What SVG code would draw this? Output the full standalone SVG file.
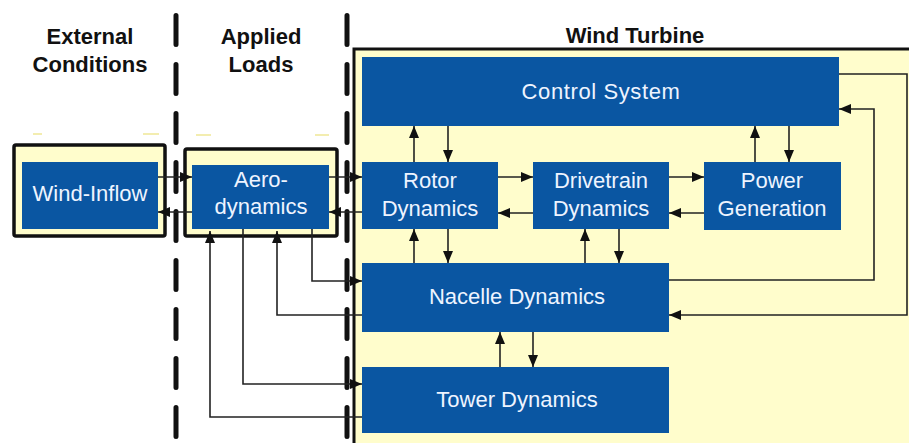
<svg xmlns="http://www.w3.org/2000/svg" width="909" height="443" viewBox="0 0 909 443">
<defs>
<style>
.hdr{font-family:"Liberation Sans",Arial,sans-serif;font-weight:bold;font-size:22px;fill:#111;text-anchor:middle}
.lbl{font-family:"Liberation Sans",Arial,sans-serif;font-size:22px;fill:#EEF4FF;text-anchor:middle}
.blue{fill:#0A56A2}
.outer{fill:#FFFDCC;stroke:#111;stroke-width:3.5}
.dash{stroke:#111;stroke-width:5;stroke-linecap:round;stroke-dasharray:29 20;fill:none}
.c{fill:none;stroke:#222;stroke-width:1.6}
.a{marker-end:url(#ah)}
.tick{stroke:#F3EDB0;stroke-width:2}
</style>
<marker id="ah" markerUnits="userSpaceOnUse" markerWidth="12" markerHeight="10" refX="12" refY="5" orient="auto">
<path d="M0,0 L12,5 L0,10 z" fill="#111"/>
</marker>
</defs>
<rect width="909" height="443" fill="#fff"/>

<!-- Headers -->
<text class="hdr" x="90" y="44">External</text>
<text class="hdr" x="90" y="72">Conditions</text>
<text class="hdr" x="261" y="44">Applied</text>
<text class="hdr" x="261" y="72">Loads</text>
<text class="hdr" x="635" y="43">Wind Turbine</text>

<!-- Wind turbine panel -->
<rect x="354" y="49" width="600" height="450" fill="#FFFDCC" stroke="#111" stroke-width="3"/>

<!-- small marks -->
<line class="tick" x1="33" y1="134" x2="42" y2="134"/>
<line class="tick" x1="143" y1="134" x2="159" y2="134"/>
<line class="tick" x1="196" y1="135" x2="211" y2="135"/>
<line class="tick" x1="315" y1="135" x2="329" y2="135"/>

<!-- dashed separators -->
<line class="dash" x1="176" y1="15.5" x2="176" y2="450"/>
<line class="dash" x1="347" y1="15.5" x2="347" y2="450"/>

<g id="wind-inflow">
<rect class="outer" x="14" y="145" width="151" height="91" rx="2"/>
<rect class="blue" x="22" y="162" width="136" height="67"/>
<text class="lbl" x="90" y="201">Wind-Inflow</text>
</g>

<g id="aerodynamics">
<rect class="outer" x="185" y="149" width="152" height="87" rx="2"/>
<rect class="blue" x="192" y="165" width="137" height="64"/>
<text class="lbl" x="261" y="187">Aero-</text>
<text class="lbl" x="261" y="214">dynamics</text>
</g>

<g id="control-system">
<rect class="blue" x="362" y="57" width="477" height="69"/>
<text class="lbl" x="601" y="99" letter-spacing="0.6">Control System</text>
</g>

<g id="rotor-dynamics">
<rect class="blue" x="362" y="162" width="136" height="67"/>
<text class="lbl" x="430" y="188">Rotor</text>
<text class="lbl" x="430" y="216">Dynamics</text>
</g>

<g id="drivetrain-dynamics">
<rect class="blue" x="533" y="162" width="136" height="67"/>
<text class="lbl" x="601" y="188">Drivetrain</text>
<text class="lbl" x="601" y="216">Dynamics</text>
</g>

<g id="power-generation">
<rect class="blue" x="704" y="162" width="137" height="68"/>
<text class="lbl" x="772" y="188">Power</text>
<text class="lbl" x="772" y="216">Generation</text>
</g>

<g id="nacelle-dynamics">
<rect class="blue" x="362" y="263" width="307" height="69"/>
<text class="lbl" x="517" y="304">Nacelle Dynamics</text>
</g>

<g id="tower-dynamics">
<rect class="blue" x="362" y="367" width="307" height="66"/>
<text class="lbl" x="517" y="407">Tower Dynamics</text>
</g>

<g id="connectors">
<!-- Wind-Inflow <-> Aero -->
<line class="c a" x1="158" y1="177" x2="192" y2="177"/>
<line class="c a" x1="192" y1="212" x2="158" y2="212"/>
<!-- Aero <-> Rotor -->
<line class="c a" x1="329" y1="177" x2="362" y2="177"/>
<line class="c a" x1="362" y1="212" x2="329" y2="212"/>
<!-- Control <-> Rotor -->
<line class="c a" x1="414" y1="162" x2="414" y2="126"/>
<line class="c a" x1="448" y1="126" x2="448" y2="162"/>
<!-- Rotor <-> Drivetrain -->
<line class="c a" x1="498" y1="177" x2="533" y2="177"/>
<line class="c a" x1="533" y1="213" x2="498" y2="213"/>
<!-- Drivetrain <-> Power -->
<line class="c a" x1="669" y1="177" x2="704" y2="177"/>
<line class="c a" x1="704" y1="213" x2="669" y2="213"/>
<!-- Power <-> Control -->
<line class="c a" x1="755" y1="162" x2="755" y2="126"/>
<line class="c a" x1="789" y1="126" x2="789" y2="162"/>
<!-- Rotor <-> Nacelle -->
<line class="c a" x1="414" y1="263" x2="414" y2="229"/>
<line class="c a" x1="448" y1="229" x2="448" y2="263"/>
<!-- Drivetrain <-> Nacelle -->
<line class="c a" x1="585" y1="263" x2="585" y2="229"/>
<line class="c a" x1="619" y1="229" x2="619" y2="263"/>
<!-- Nacelle <-> Tower -->
<line class="c a" x1="500" y1="367" x2="500" y2="332"/>
<line class="c a" x1="533" y1="332" x2="533" y2="367"/>
<!-- Control -> Nacelle loop -->
<polyline class="c a" points="839,74 907,74 907,315 669,315"/>
<!-- Nacelle -> Control loop -->
<polyline class="c a" points="669,280 874,280 874,109 839,109"/>
<!-- Aero <-> Nacelle -->
<polyline class="c a" points="312,229 312,281 362,281"/>
<polyline class="c a" points="362,315 277,315 277,231"/>
<!-- Aero <-> Tower -->
<polyline class="c a" points="243,229 243,384 362,384"/>
<polyline class="c a" points="362,417 210,417 210,231"/>
</g>
</svg>
